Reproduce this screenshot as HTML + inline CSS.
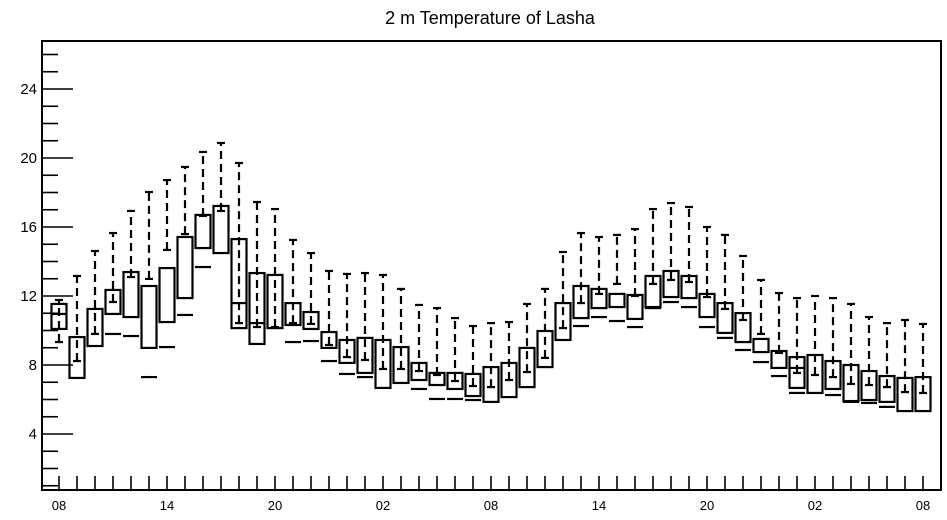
<!DOCTYPE html>
<html><head><meta charset="utf-8">
<style>
html,body{margin:0;padding:0;background:#fff;}
svg{display:block;font-family:"Liberation Sans",sans-serif;}
</style></head>
<body>
<svg id="chart" width="947" height="520" viewBox="0 0 947 520">
  <text x="490" y="24" text-anchor="middle" font-size="18">2 m Temperature of Lasha</text>
  <g id="marks"></g>
  <g id="axes"></g>
  <rect x="42" y="41" width="899" height="449" fill="none" stroke="#000" stroke-width="2"/>
</svg>
<script>
const hiVals  = [11.77,13.16,14.61,15.65,16.93,18.03,18.72,19.48,20.35,20.87,19.71,17.45,17.04,15.25,14.49,13.45,13.28,13.33,13.22,12.41,11.48,11.30,10.72,10.26,10.43,10.49,11.54,12.41,14.55,15.65,15.42,15.54,15.88,17.04,17.39,17.16,16.00,15.54,14.32,12.93,12.17,11.88,12.00,11.88,11.54,10.78,10.43,10.61,10.38];
const q3Vals  = [11.54,9.62,11.25,12.35,13.39,12.58,13.62,15.42,16.70,17.22,15.30,13.33,13.22,11.59,11.07,9.91,9.45,9.57,9.45,9.04,8.12,7.54,7.54,7.48,7.88,8.12,8.99,9.97,11.59,12.58,12.41,12.12,12.06,13.16,13.45,13.16,12.12,11.59,11.01,9.51,8.81,8.46,8.58,8.23,8.00,7.65,7.36,7.25,7.30];
const q1Vals  = [10.09,7.25,9.10,10.96,10.78,8.99,10.49,11.88,14.78,14.49,10.14,9.22,10.14,10.32,10.09,8.99,8.12,7.54,6.67,6.96,7.13,6.84,6.61,6.20,5.86,6.14,6.72,7.88,9.45,10.72,11.30,11.36,10.67,11.36,11.94,11.88,10.78,9.86,9.33,8.75,7.83,6.67,6.38,6.61,5.91,5.97,5.86,5.33,5.33];
const medVals = [10.96,null,null,null,null,null,null,null,null,null,11.59,10.43,null,null,null,null,null,null,null,null,null,null,null,null,null,null,null,null,null,null,null,null,null,null,null,null,null,null,null,null,null,7.83,null,null,null,null,null,null,null];
const tVals   = [9.33,8.23,9.80,11.65,13.10,12.99,14.67,15.59,16.64,16.93,10.43,10.20,10.20,10.43,10.38,9.16,8.46,8.29,7.77,7.77,7.65,7.42,7.07,6.78,6.72,7.13,7.59,8.41,10.14,11.59,12.12,12.70,12.00,12.70,12.93,12.81,11.94,11.25,10.61,9.80,8.70,7.54,7.42,7.30,6.90,6.84,6.72,6.43,6.38];
const loVals  = [null,null,null,9.80,9.68,7.30,9.04,10.90,13.68,null,null,null,null,9.33,9.39,8.23,7.48,7.30,null,null,6.61,6.03,6.03,5.97,null,null,null,null,null,10.26,10.78,10.55,10.20,11.30,11.65,11.36,10.20,9.57,8.87,8.17,7.36,6.38,null,6.26,5.86,5.80,5.57,null,null];
const xTickLabels = ["08","14","20","02","08","14","20","02","08"];
const yTickLabels = [4,8,12,16,20,24];

const NS="http://www.w3.org/2000/svg";
const X0=42,X1=941,Y0=41,Y1=490;
const yMin=(503-490)/17.25, yMax=(503-41)/17.25;
function yScale(v){return Y1-(v-yMin)/(yMax-yMin)*(Y1-Y0);}
function xScale(i){return 59+18*i;}
function mk(tag,attrs,parent){const e=document.createElementNS(NS,tag);for(const k in attrs)e.setAttribute(k,attrs[k]);parent.appendChild(e);return e;}
const marks=document.getElementById('marks');
const axes=document.getElementById('axes');
const S={stroke:"#000","stroke-width":2.2,fill:"none"};

for(let i=0;i<hiVals.length;i++){
  const cx=xScale(i);
  const g=mk('g',{},marks);
  
  
  const yh=yScale(hiVals[i]), yt=yScale(tVals[i]);
  const w=mk('line',Object.assign({x1:cx,x2:cx,y1:yt,y2:yh,"stroke-dasharray":"8,5"},S),g);
  
  
  const c1=mk('line',Object.assign({x1:cx-4,x2:cx+4,y1:yh,y2:yh},S),g);
  
  
  const c2=mk('line',Object.assign({x1:cx-4,x2:cx+4,y1:yt,y2:yt},S),g);
  
  
  const y3=yScale(q3Vals[i]), y1=yScale(q1Vals[i]);
  const b=mk('rect',Object.assign({x:cx-7.5,y:y3,width:15,height:y1-y3},S),g);
  
  
  if(medVals[i]!==null){
    const ym=yScale(medVals[i]);
    const m=mk('line',Object.assign({x1:cx-7.5,x2:cx+7.5,y1:ym,y2:ym},S),g);
    
    
  }
  if(loVals[i]!==null){
    const yl=yScale(loVals[i]);
    const l=mk('line',Object.assign({x1:cx-8,x2:cx+8,y1:yl,y2:yl},S),g);
    
    
  }
}
// y ticks
for(let v=1;v<=26;v++){
  const y=yScale(v);
  const major=v%4===0;
  const t=mk('line',{x1:X0,x2:X0+(major?31:16),y1:y,y2:y,stroke:"#000","stroke-width":1.6},axes);
  
  
}
yTickLabels.forEach(v=>{
  const t=mk('text',{x:37,y:yScale(v)+5,"text-anchor":"end","font-size":15},axes);
  t.textContent=v;
  
  
});
// x ticks
for(let i=0;i<hiVals.length;i++){
  const x=xScale(i);
  const t=mk('line',{x1:x,x2:x,y1:Y1,y2:Y1-14,stroke:"#000","stroke-width":1.6},axes);
  
  
}
xTickLabels.forEach((s,k)=>{
  const t=mk('text',{x:xScale(k*6),y:510,"text-anchor":"middle","font-size":13},axes);
  t.textContent=s;
  
  
});
</script>
</body></html>
